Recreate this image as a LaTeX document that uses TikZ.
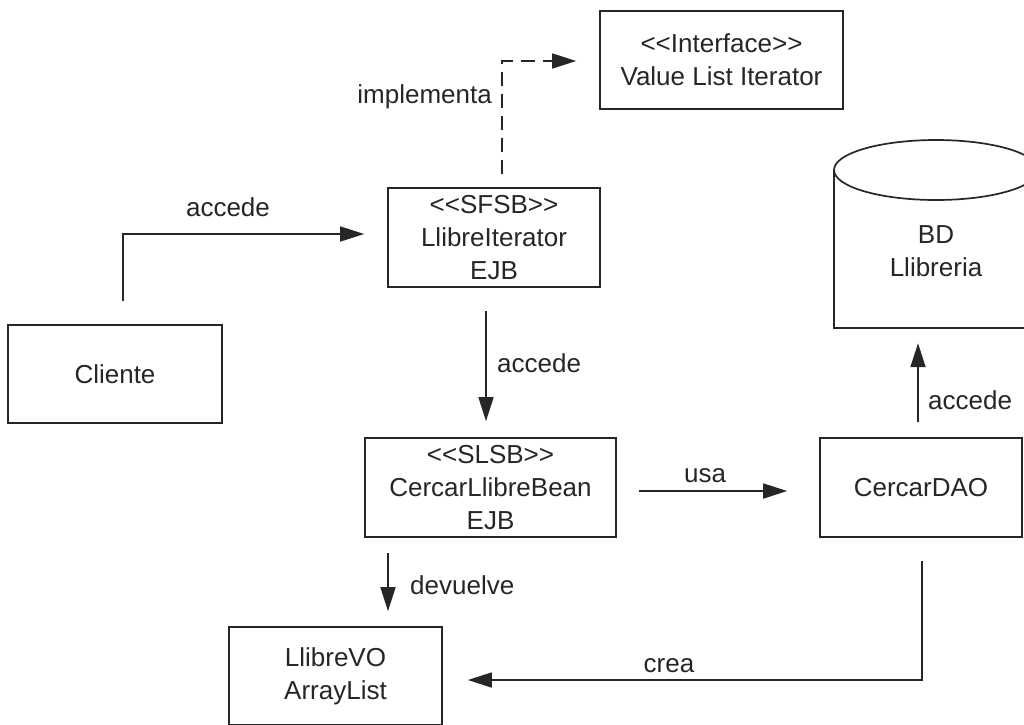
\documentclass[tikz,border=0pt]{standalone}
\usepackage{fontspec}
\setmainfont{Liberation Sans}
\usetikzlibrary{arrows.meta,calc}

\definecolor{ink}{gray}{0.15}

\tikzset{
  every node/.style={text=ink},
  txt/.style={font=\fontsize{26}{33}\selectfont, inner sep=0pt},
  box/.style={draw=ink, line width=1.7pt, txt, align=center},
  link/.style={draw=ink, line width=1.7pt,
    -{Triangle[length=24pt,width=15pt]}},
  dashlink/.style={link, dash pattern=on 14pt off 8pt},
}

\begin{document}
\begin{tikzpicture}[x=1pt,y=-1pt]
  \useasboundingbox (0,0) rectangle (1024,724);

  % boxes
  \node[box, minimum width=243pt, minimum height=98pt] (iface) at (721.5,60)
    {<{}<Interface>{}>\\Value List Iterator};
  \node[box, minimum width=212pt, minimum height=99pt] (sfsb) at (494,237.5)
    {<{}<SFSB>{}>\\LlibreIterator\\EJB};
  \node[box, minimum width=214pt, minimum height=98pt] (cliente) at (115,374)
    {Cliente};
  \node[box, minimum width=251pt, minimum height=99pt] (slsb) at (490.5,487.5)
    {<{}<SLSB>{}>\\CercarLlibreBean\\EJB};
  \node[box, minimum width=202pt, minimum height=99pt] (dao) at (921,487.5)
    {CercarDAO};
  \node[box, minimum width=213pt, minimum height=98pt] (vo) at (335.5,676)
    {LlibreVO\\ArrayList};

  % database cylinder
  \node[minimum width=204pt, minimum height=188pt, inner sep=0pt] (db) at (936,234) {};
  \draw[ink, line width=1.7pt]
    (db.west |- 0,170) -- (db.south west) -- (db.south east) -- (db.east |- 0,170);
  \draw[ink, line width=1.7pt] (936,170) ellipse [x radius=102, y radius=30];
  \node[txt, align=center] (dbtext) at (936,251.5) {BD\\Llibreria};

  % connectors
  \draw[dashlink] ($(sfsb.north)+(8,-13)$) |- ($(iface.west)+(-23,1)$);
  \draw[link] ($(cliente.north)+(8,-23)$) |- ($(sfsb.west)+(-23,-3.5)$);
  \draw[link, shorten >=16pt] ($(sfsb.south)+(-8,23)$) coordinate (a1) -- (a1 |- slsb.north);
  \draw[link] ($(slsb.east)+(22,3.5)$) -- ($(dao.west)+(-32,3.5)$);
  \draw[link, shorten >=15pt] ($(slsb.south)+(-102.5,15)$) coordinate (a2) -- (a2 |- vo.north);
  \draw[link, shorten >=15pt] ($(dao.north)+(-3,-15)$) coordinate (a3) -- (a3 |- db.south);
  \draw[link] ($(dao.south)+(1,23)$) |- ($(vo.east)+(25,4)$);

  % connector labels
  \node[txt, anchor=east] (limpl) at (492,97) {implementa};
  \node[txt] (lacc1) at (228,207) {accede};
  \node[txt, anchor=west] (lacc2) at (497,363) {accede};
  \node[txt] (lusa) at (705,476) {usa};
  \node[txt, anchor=west] (ldev) at (410,585) {devuelve};
  \node[txt, anchor=west] (lacc3) at (928,400) {accede};
  \node[txt] (lcrea) at (669,666) {crea};
\end{tikzpicture}
\end{document}
